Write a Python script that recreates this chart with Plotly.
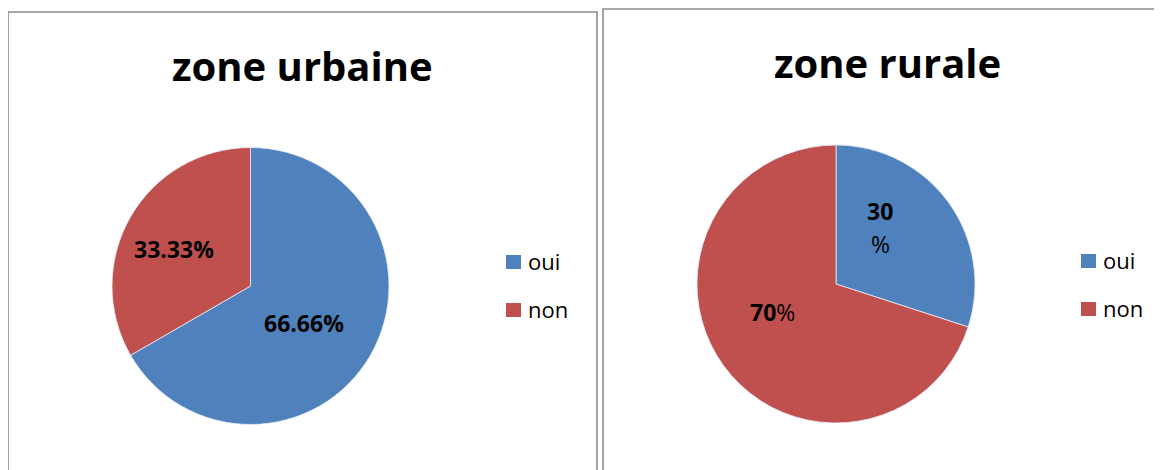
import plotly.graph_objects as go

# ---- data ----
categories = ["oui", "non"]
urban_values = [66.66, 33.33]
rural_values = [30, 70]
urban_title = "zone urbaine"
rural_title = "zone rurale"
colors = ["#4F81BD", "#C0504D"]

# page body has an 8px margin; figure sized to fill the rest of the window
OFF = 8
W, H = 1162 - OFF, 470 - OFF
FONT = "Open Sans"


def px(x):
    return (x - OFF) / W


def py(y):
    return 1 - (y - OFF) / H


def domain(cx, cy, r):
    return dict(x=[px(cx - r), px(cx + r)], y=[py(cy + r), py(cy - r)])


fig = go.Figure()

fig.add_trace(go.Pie(
    labels=categories, values=urban_values, sort=False, direction="clockwise",
    rotation=0, textinfo="none", hoverinfo="label+value",
    marker=dict(colors=colors, line=dict(color="#e8eef7", width=0.8)),
    domain=domain(250.5, 286, 138.5), showlegend=False, name=urban_title,
))
fig.add_trace(go.Pie(
    labels=categories, values=rural_values, sort=False, direction="clockwise",
    rotation=0, textinfo="none", hoverinfo="label+value",
    marker=dict(colors=colors, line=dict(color="#e8eef7", width=0.8)),
    domain=domain(836, 284, 139), showlegend=False, name=rural_title,
))

shapes = []
annotations = []

# panel borders
border = dict(color="#8c8c8c", width=1.6)
shapes.append(dict(type="rect", xref="paper", yref="paper",
                   x0=px(8), x1=px(597), y0=py(485), y1=py(12), line=border))
shapes.append(dict(type="rect", xref="paper", yref="paper",
                   x0=px(603), x1=px(1175), y0=py(485), y1=py(9), line=border))

# titles
annotations.append(dict(text=f"<b>{urban_title}</b>", x=px(302.5), y=py(66),
                        xref="paper", yref="paper", showarrow=False,
                        xanchor="center", yanchor="middle",
                        font=dict(family=FONT, size=40, color="black")))
annotations.append(dict(text=f"<b>{rural_title}</b>", x=px(887.5), y=py(62),
                        xref="paper", yref="paper", showarrow=False,
                        xanchor="center", yanchor="middle",
                        font=dict(family=FONT, size=40, color="black")))


def fmt(v):
    s = f"{v:.2f}" if v != int(v) else f"{int(v)}"
    return s


lab_font = dict(family=FONT, size=23, color="black")
# data labels, urban
annotations.append(dict(text=f"<b>{fmt(urban_values[1])}%</b>", x=px(174), y=py(249),
                        xref="paper", yref="paper", showarrow=False,
                        xanchor="center", yanchor="middle", font=lab_font))
annotations.append(dict(text=f"<b>{fmt(urban_values[0])}%</b>", x=px(304), y=py(323),
                        xref="paper", yref="paper", showarrow=False,
                        xanchor="center", yanchor="middle", font=lab_font))
# data labels, rural
annotations.append(dict(text=f"<b>{fmt(rural_values[0])}</b>", x=px(880), y=py(211),
                        xref="paper", yref="paper", showarrow=False,
                        xanchor="center", yanchor="middle", font=lab_font))
annotations.append(dict(text="%", x=px(880), y=py(244),
                        xref="paper", yref="paper", showarrow=False,
                        xanchor="center", yanchor="middle", font=lab_font))
annotations.append(dict(text=f"<b>{fmt(rural_values[1])}</b>%", x=px(772), y=py(312),
                        xref="paper", yref="paper", showarrow=False,
                        xanchor="center", yanchor="middle", font=lab_font))

# legends (manual, to match spacing)
leg_font = dict(family=FONT, size=22, color="black")
for (sx, tx, ys) in [(506, 528, [262, 310]), (1081, 1103, [261, 309])]:
    for cat, col, yc in zip(categories, colors, ys):
        shapes.append(dict(type="rect", xref="paper", yref="paper",
                           x0=px(sx), x1=px(sx + 15), y0=py(yc + 7), y1=py(yc - 7),
                           fillcolor=col, line=dict(width=0)))
        annotations.append(dict(text=cat, x=px(tx - 2), y=py(yc - 1),
                                xref="paper", yref="paper", showarrow=False,
                                xanchor="left", yanchor="middle", font=leg_font))

fig.update_layout(
    width=W, height=H, margin=dict(l=0, r=0, t=0, b=0),
    paper_bgcolor="white", plot_bgcolor="white",
    shapes=shapes, annotations=annotations, showlegend=False,
)

fig.write_html("out.html")
